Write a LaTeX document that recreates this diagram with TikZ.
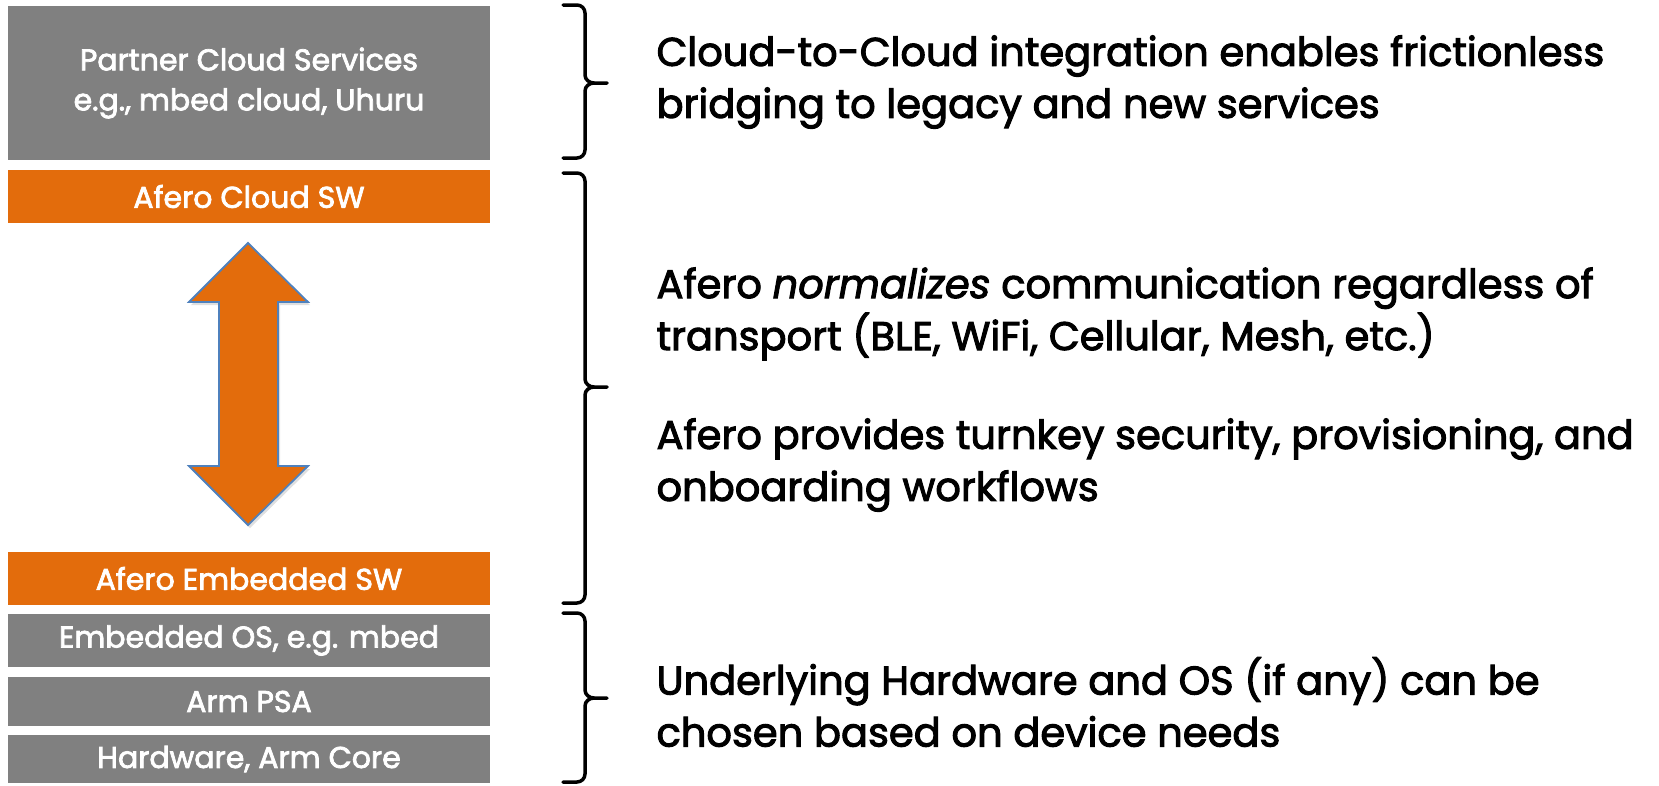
\documentclass[tikz,border=0pt]{standalone}
\usepackage{fontspec}
\setmainfont{Poppins}[FakeBold=2.5]
\usepackage{tikz}
\usetikzlibrary{positioning,calc,shadows}
\definecolor{slab}{RGB}{128,128,128}
\definecolor{afero}{RGB}{227,108,12}
\definecolor{rim}{RGB}{79,129,189}
% brace at the right of the stack: top, tip, bottom (px, y down)
\newcommand{\sidebrace}[3]{%
  \draw[bracket] (563,#1) -- (577,#1) to[out=0,in=90] (585,{#1+8})
    -- (585,{#2-8}) to[out=-90,in=180] (594,#2) -- (607,#2);
  \draw[bracket] (594,#2) to[out=180,in=90] (585,{#2+8})
    -- (585,{#3-8}) to[out=-90,in=0] (577,#3) -- (563,#3);}

\begin{document}
\begin{tikzpicture}[
  x=1pt, y=-1pt,
  every node/.style={font=\fontsize{30}{40}\selectfont},
  layer/.style={fill=slab, text=white, minimum width=482pt, inner sep=0pt,
                align=center},
  aferolayer/.style={layer, fill=afero},
  bracket/.style={line width=3.5pt, line cap=round, line join=round},
  note/.style={anchor=west, align=left, font=\fontsize{40}{52}\selectfont},
  twoway/.style={fill=afero, draw=rim, line width=1.8pt, line join=miter,
                 drop shadow={opacity=0.25, shadow xshift=2pt, shadow yshift=-3pt}}
]
  \useasboundingbox (0,0) rectangle (1659,785);

  % --- Stack of layers ---
  \node[layer, minimum height=154pt] (partner) at (249,83)
    {Partner Cloud Services\\e.g., mbed cloud, Uhuru};
  \node[aferolayer, minimum height=53pt] (cloudsw) at (249,196.5) {Afero Cloud SW};
  \node[aferolayer, minimum height=53pt] (embsw) at (249,578.5) {Afero Embedded SW};
  \node[layer, minimum height=53pt] (os) at (249,640.5) {Embedded OS, e.g. mbed};
  \node[layer, minimum height=49pt] (psa) at (249,701.5) {Arm PSA};
  \node[layer, minimum height=48pt] (hw) at (249,759) {Hardware, Arm Core};

  % --- Two-way arrow between the Afero layers ---
  \draw[twoway] (248,243) -- (308,302) -- (278,302) -- (278,466) -- (308,466)
    -- (248,525) -- (189,466) -- (219,466) -- (219,302) -- (189,302) -- cycle;

  % --- Braces ---
  \sidebrace{5}{83}{158}
  \sidebrace{173}{387}{603}
  \sidebrace{613}{698}{782}

  % --- Notes ---
  \node[note] (cloudnote) at (653,82)
    {Cloud-to-Cloud integration enables frictionless\\bridging to legacy and new services};
  \node[note] (normnote) at (653,314)
    {Afero \textit{normalizes} communication regardless of\\transport (BLE, WiFi, Cellular, Mesh, etc.)};
  \node[note] (secnote) at (653,465)
    {Afero provides turnkey security, provisioning, and\\onboarding workflows};
  \node[note] (hwnote) at (653,702)
    {Underlying Hardware and OS (if any) can be\\chosen based on device needs};

\end{tikzpicture}
\end{document}
